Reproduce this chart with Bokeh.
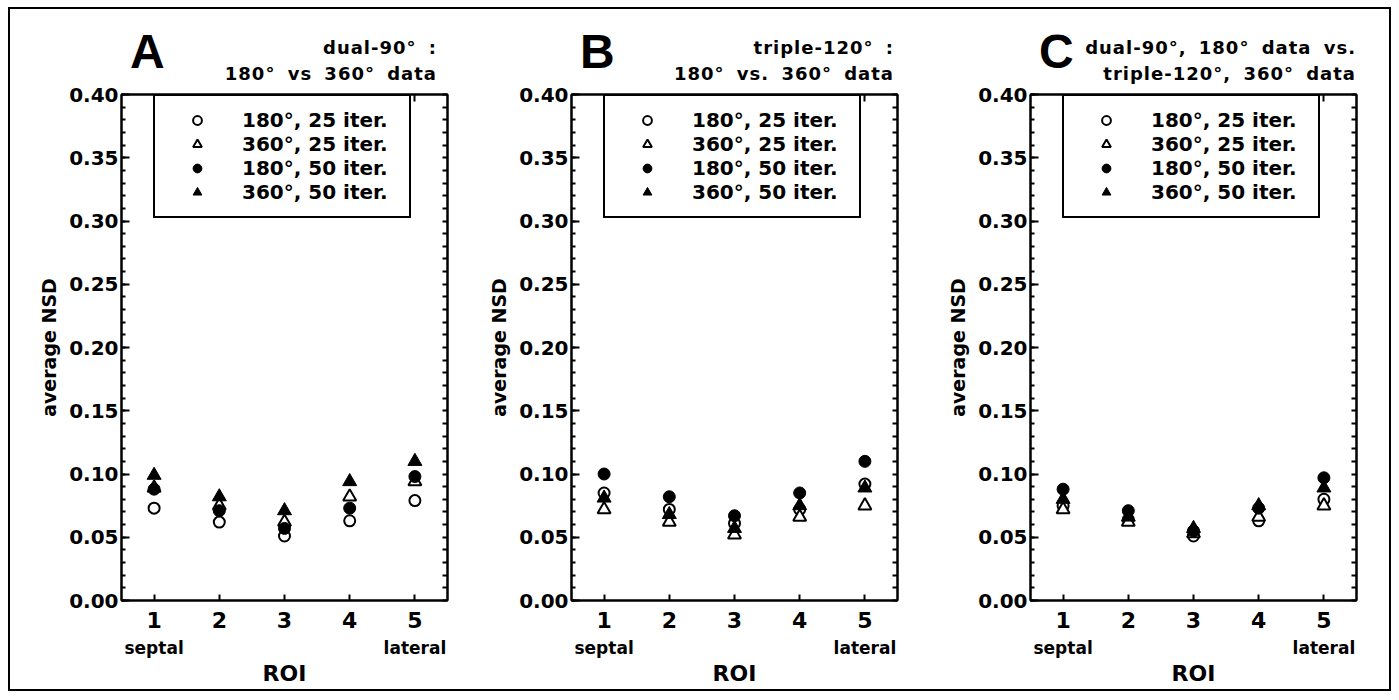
from bokeh.plotting import figure
from bokeh.models import (Range1d, LinearAxis, FixedTicker, SingleIntervalTicker,
                          PrintfTickFormatter, Legend, LegendItem, Row, Column, Div)
from bokeh.embed import file_html
from bokeh.resources import INLINE

# ---------------- data ----------------
roi = [1, 2, 3, 4, 5]
roi_end_names = {1: "septal", 5: "lateral"}
series_labels = ["180°, 25 iter.", "360°, 25 iter.", "180°, 50 iter.", "360°, 50 iter."]

# Panel A: dual-90°, 180° vs 360° data
A_180_25 = [0.073, 0.062, 0.051, 0.063, 0.079]
A_360_25 = [0.089, 0.075, 0.062, 0.082, 0.094]
A_180_50 = [0.088, 0.071, 0.057, 0.073, 0.098]
A_360_50 = [0.099, 0.082, 0.071, 0.094, 0.110]

# Panel B: triple-120°, 180° vs 360° data
B_180_25 = [0.085, 0.072, 0.061, 0.072, 0.092]
B_360_25 = [0.072, 0.062, 0.052, 0.066, 0.075]
B_180_50 = [0.100, 0.082, 0.067, 0.085, 0.110]
B_360_50 = [0.081, 0.068, 0.057, 0.075, 0.089]

# Panel C: dual-90° 180° data vs triple-120° 360° data
C_180_25 = [0.075, 0.064, 0.051, 0.063, 0.080]
C_360_25 = [0.072, 0.062, 0.053, 0.066, 0.075]
C_180_50 = [0.088, 0.071, 0.055, 0.073, 0.097]
C_360_50 = [0.080, 0.066, 0.057, 0.075, 0.089]

y_ticks_interval = 0.05
y_minor_step = 0.01
x_tick_values = [1, 2, 3, 4, 5]

panels = [
    ("A", ["dual-90° :", "180° vs 360° data"], [A_180_25, A_360_25, A_180_50, A_360_50]),
    ("B", ["triple-120° :", "180° vs. 360° data"], [B_180_25, B_360_25, B_180_50, B_360_50]),
    ("C", ["dual-90°, 180° data vs.", "triple-120°, 360° data"], [C_180_25, C_360_25, C_180_50, C_360_50]),
]

# ---------------- layout constants ----------------
FRAME_W, FRAME_H = 326, 506
X0, X1 = 0.5, 5.5
Y0, Y1 = 0.0, 0.4

fig_specs = [  # (width, border_left, border_right, title_right_offset)
    (455, 111, 18, -10),
    (459, 106, 27, -3),
    (465, 106, 33, 0),
]
HEAD_H = 75
BT, BB = 10, 89
HEIGHT = BT + FRAME_H + BB

TXT = "DejaVu Sans"
right_minor = [round(i * y_minor_step, 2) for i in range(int(round((Y1 - Y0) / y_minor_step)) + 1)]

marker_styles = [
    dict(marker="circle", size=11, fill_color="white", line_color="black", line_width=2),
    dict(marker="triangle", size=13, fill_color="white", line_color="black", line_width=2),
    dict(marker="circle", size=12, fill_color="black", line_color="black", line_width=1),
    dict(marker="triangle", size=14, fill_color="black", line_color="black", line_width=1),
]


def header(letter, lines, W, BL, TOFF):
    right = W - (BL + FRAME_W + TOFF)
    return (
        f'<div style="position:relative;width:{W}px;height:{HEAD_H}px;overflow:visible;">'
        f'<div style="position:absolute;left:{BL + 9}px;top:19px;font-family:\'Liberation Sans\',sans-serif;'
        f'font-weight:bold;font-size:48px;line-height:48px;color:black;white-space:nowrap;">{letter}</div>'
        f'<div style="position:absolute;right:{right}px;top:26px;font-family:\'DejaVu Sans\',sans-serif;'
        f'font-weight:bold;font-size:18px;line-height:26px;letter-spacing:1px;word-spacing:5px;'
        f'text-align:right;color:black;white-space:nowrap;">{lines[0]}<br>{lines[1]}</div>'
        f'</div>'
    )


cols = []
for (letter, title_lines, series), (W, BL, BR, TOFF) in zip(panels, fig_specs):
    p = figure(width=W, height=HEIGHT, x_range=Range1d(X0, X1), y_range=Range1d(Y0, Y1),
               output_backend="svg", toolbar_location=None, tools="",
               min_border_left=BL, min_border_right=BR, min_border_top=BT, min_border_bottom=BB,
               background_fill_color="white", border_fill_color="white")
    p.grid.visible = False
    p.outline_line_color = "black"
    p.outline_line_width = 2

    # bottom axis: ROI numbers
    xa = p.xaxis[0]
    xa.ticker = FixedTicker(ticks=x_tick_values)
    xa.major_tick_in, xa.major_tick_out = 6, 0
    xa.minor_tick_in, xa.minor_tick_out = 0, 0
    xa.axis_line_width = 2
    xa.major_tick_line_width = 2
    xa.major_label_text_font = TXT
    xa.major_label_text_font_style = "bold"
    xa.major_label_text_font_size = "22px"
    xa.major_label_text_color = "black"
    xa.major_label_standoff = 11

    # second bottom axis: septal / lateral and the ROI title
    xa2 = LinearAxis(ticker=FixedTicker(ticks=list(roi_end_names.keys())),
                     major_label_overrides=roi_end_names,
                     axis_line_color=None, major_tick_line_color=None, minor_tick_line_color=None,
                     major_tick_in=0, major_tick_out=0, minor_tick_in=0, minor_tick_out=0,
                     major_label_standoff=7,
                     major_label_text_font=TXT, major_label_text_font_style="bold",
                     major_label_text_font_size="17px", major_label_text_color="black",
                     axis_label="ROI", axis_label_standoff=0,
                     axis_label_text_font=TXT, axis_label_text_font_style="bold",
                     axis_label_text_font_size="22px", axis_label_text_color="black")
    p.add_layout(xa2, "below")

    # left axis
    ya = p.yaxis[0]
    ya.ticker = SingleIntervalTicker(interval=y_ticks_interval, num_minor_ticks=5)
    ya.formatter = PrintfTickFormatter(format="%.2f")
    ya.major_tick_in, ya.major_tick_out = 8, 0
    ya.minor_tick_in, ya.minor_tick_out = 4, 0
    ya.axis_line_width = 2
    ya.major_tick_line_width = 2
    ya.minor_tick_line_width = 2
    ya.major_label_text_font = TXT
    ya.major_label_text_font_style = "bold"
    ya.major_label_text_font_size = "20px"
    ya.major_label_text_color = "black"
    ya.major_label_standoff = 3
    ya.axis_label = "average NSD"
    ya.axis_label_text_font = TXT
    ya.axis_label_text_font_style = "bold"
    ya.axis_label_text_font_size = "19px"
    ya.axis_label_text_color = "black"
    ya.axis_label_standoff = 6

    # mirrored axes: tick marks only
    ra = LinearAxis(ticker=FixedTicker(ticks=[], minor_ticks=right_minor),
                    major_tick_in=0, major_tick_out=0, minor_tick_in=5, minor_tick_out=0,
                    axis_line_width=2, minor_tick_line_width=2, major_label_standoff=0)
    p.add_layout(ra, "right")
    ta = LinearAxis(ticker=FixedTicker(ticks=[], minor_ticks=x_tick_values),
                    major_tick_in=0, major_tick_out=0, minor_tick_in=7, minor_tick_out=0,
                    axis_line_width=2, minor_tick_line_width=2, major_label_standoff=0)
    p.add_layout(ta, "above")

    renderers = []
    for vals, st in zip(series, marker_styles):
        renderers.append(p.scatter(roi, vals, **st))

    legend = Legend(items=[LegendItem(label=l, renderers=[r]) for l, r in zip(series_labels, renderers)],
                    location=(32, 382),
                    border_line_color="black", border_line_width=2, border_line_alpha=1,
                    background_fill_color="white", background_fill_alpha=1,
                    padding=12, spacing=0, margin=0,
                    glyph_width=60, glyph_height=22, label_height=22, label_width=155,
                    label_standoff=15,
                    label_text_font=TXT, label_text_font_style="bold",
                    label_text_font_size="20px", label_text_color="black")
    p.add_layout(legend, "center")

    head = Div(text=header(letter, title_lines, W, BL, TOFF), width=W, height=HEAD_H, margin=0)
    cols.append(Column(children=[head, p], spacing=0, margin=0))

layout = Row(children=cols, spacing=0, margin=(7, 0, 0, 8),
             styles={"border": "2px solid black"})

open("out.html", "w").write(file_html(layout, INLINE))
